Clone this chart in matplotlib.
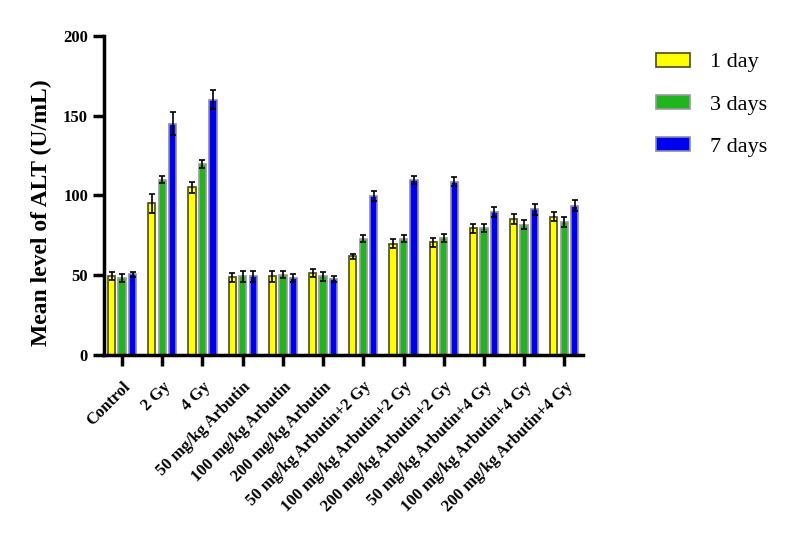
import numpy as np
import matplotlib.pyplot as plt
from matplotlib.patches import Patch

plt.rcParams['font.family'] = ['Liberation Serif', 'DejaVu Serif']

groups = ["Control", "2 Gy", "4 Gy", "50 mg/kg Arbutin", "100 mg/kg Arbutin",
          "200 mg/kg Arbutin", "50 mg/kg Arbutin+2 Gy", "100 mg/kg Arbutin+2 Gy",
          "200 mg/kg Arbutin+2 Gy", "50 mg/kg Arbutin+4 Gy", "100 mg/kg Arbutin+4 Gy",
          "200 mg/kg Arbutin+4 Gy"]
series = ["1 day", "3 days", "7 days"]

day1 = [49.5, 95, 105, 48.7, 49.4, 51.5, 61.8, 69.8, 70.6, 79.6, 85.5, 86.8]
day3 = [48.3, 110, 120, 49.4, 50.4, 49.4, 72.9, 72.9, 73.3, 79.6, 81.7, 83.4]
day7 = [50.6, 145, 160, 49.4, 48.5, 47.5, 99.8, 109.7, 108.6, 89.7, 91.4, 93.5]

err1 = [2.5, 6.0, 3.2, 2.8, 3.5, 2.5, 1.5, 2.8, 3.0, 2.8, 3.2, 2.7]
err3 = [2.6, 2.4, 2.5, 3.5, 2.0, 2.8, 2.2, 2.2, 2.7, 2.4, 2.8, 3.3]
err7 = [1.6, 7.0, 6.0, 3.5, 2.6, 1.8, 3.3, 2.7, 2.8, 3.3, 3.5, 3.5]

fig = plt.figure(figsize=(8, 5.43), dpi=100)
ax = fig.add_axes([0.13, 0.346, 0.599, 0.588])

x = np.arange(len(groups))
w = 0.18
off = 0.26
styles = [("#ffff00", "#4a4a20"), ("#1fb51f", "#9a9a9a"), ("#0000ee", "#8a8ab0")]
for i, (vals, errs) in enumerate([(day1, err1), (day3, err3), (day7, err7)]):
    fc, ec = styles[i]
    ax.bar(x + (i - 1) * off, vals, w, color=fc, edgecolor=ec, linewidth=1.2,
           yerr=errs, error_kw=dict(ecolor="black", elinewidth=1.2, capsize=2, capthick=1.2))

ax.set_ylim(0, 200)
ax.set_xlim(-0.45, 11.47)
ax.set_yticks([0, 50, 100, 150, 200])
ax.set_xticks(x)
ax.set_xticklabels(groups, rotation=45, ha="right", rotation_mode="anchor",
                   fontsize=12, fontweight="bold")
for t in ax.get_yticklabels():
    t.set_fontweight("bold")
    t.set_fontsize(12)
ax.set_ylabel("Mean level of ALT (U/mL)", fontsize=17, fontweight="bold")
ax.yaxis.set_label_coords(-0.108, 0.445)

for s in ["top", "right"]:
    ax.spines[s].set_visible(False)
for s in ["left", "bottom"]:
    ax.spines[s].set_linewidth(2.5)
ax.tick_params(width=2.5, length=8, direction="out")
ax.tick_params(axis="x", pad=9)

handles = [Patch(facecolor=styles[i][0], edgecolor=styles[i][1], linewidth=1.2)
           for i in range(3)]
fig.legend(handles, series, loc="upper left", bbox_to_anchor=(0.795, 0.94),
           frameon=False, fontsize=16, handlelength=1.55, handleheight=0.6,
           labelspacing=1.0, handletextpad=0.9)

fig.savefig("out.png", dpi=100)
